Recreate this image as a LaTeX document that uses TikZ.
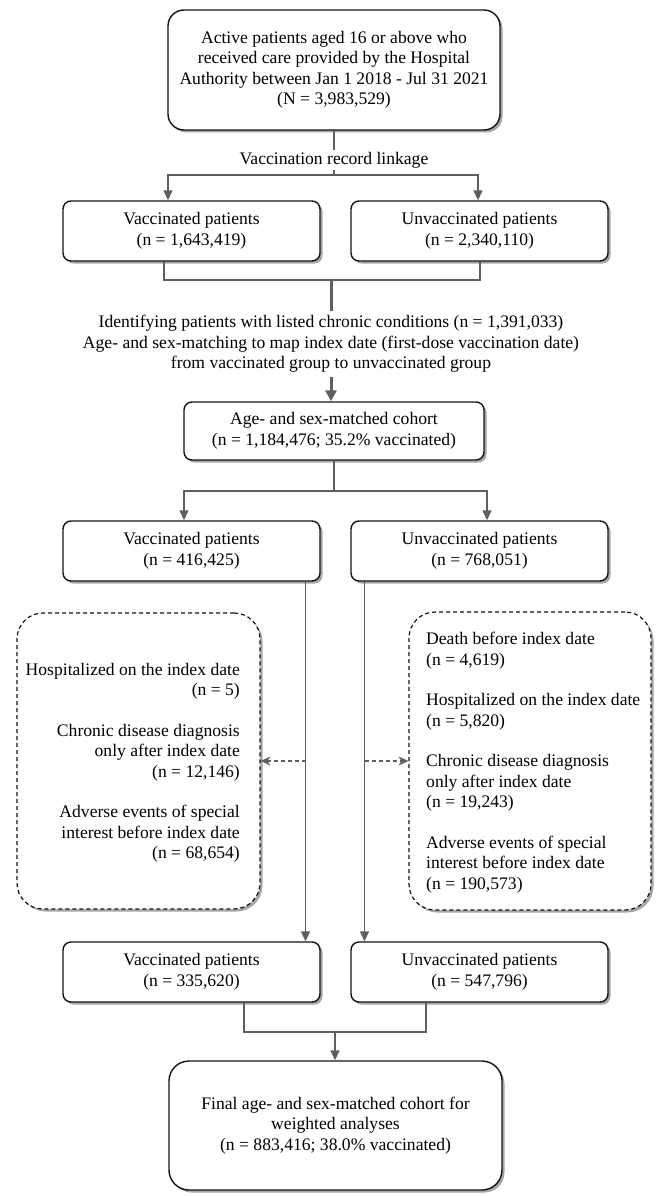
\documentclass[tikz,border=0pt]{standalone}
\usepackage{fontspec}
\setmainfont{Liberation Serif}
\usetikzlibrary{arrows.meta,shadows}
\definecolor{cgray}{RGB}{95,95,95}
\definecolor{bord}{RGB}{20,20,20}
\begin{document}
\begin{tikzpicture}[x=1pt,y=-1pt,
  font=\fontsize{17.6}{20.5}\selectfont,
  shad/.style={drop shadow={shadow xshift=2.5pt,shadow yshift=-2.5pt,fill=black,opacity=0.35}},
  box/.style={shad,draw=bord,line width=1.4pt,fill=white,rounded corners=8pt,align=center,inner sep=0pt},
  dbox/.style={shad,draw=bord,line width=1.2pt,fill=white,rounded corners=26pt,dash pattern=on 4pt off 3pt,inner sep=0pt},
  txt/.style={align=center,inner sep=0pt},
  conn/.style={draw=cgray,line width=1.4pt},
  arr/.style={conn,-{Triangle[length=10pt,width=9pt]}},
  tconn/.style={draw=cgray,line width=3pt},
  tarr/.style={draw=cgray,line width=3pt,-{Triangle[length=11pt,width=11pt]}},
  darr/.style={draw=cgray,line width=1.2pt,dash pattern=on 4pt off 3pt,-{Stealth[length=10pt,width=9pt]}}
]
\useasboundingbox[fill=white] (0,0) rectangle (659,1196);

% nodes
\node[box,rounded corners=16pt,minimum width=332pt,minimum height=120pt] (top) at (334,70)
  {Active patients aged 16 or above who\\received care provided by the Hospital\\Authority between Jan 1 2018 - Jul 31 2021\\(N = 3,983,529)};
\node[txt,fill=white,inner xsep=3pt,inner ysep=2pt] (link) at (334,160) {Vaccination record linkage};

\node[box,minimum width=257pt,minimum height=60pt] (v1) at (191.5,231) {Vaccinated patients\\(n = 1,643,419)};
\node[box,minimum width=257pt,minimum height=60pt] (u1) at (479.5,231) {Unvaccinated patients\\(n = 2,340,110)};

\node[txt,inner ysep=4pt] (mid) at (331,344)
  {Identifying patients with listed chronic conditions (n = 1,391,033)\\Age- and sex-matching to map index date (first-dose vaccination date)\\from vaccinated group to unvaccinated group};

\node[box,minimum width=300pt,minimum height=58pt] (age) at (334,431) {Age- and sex-matched cohort\\(n = 1,184,476; 35.2\% vaccinated)};

\node[box,minimum width=257pt,minimum height=60pt] (v2) at (191.5,551) {Vaccinated patients\\(n = 416,425)};
\node[box,minimum width=257pt,minimum height=60pt] (u2) at (479.5,551) {Unvaccinated patients\\(n = 768,051)};

\node[dbox,minimum width=243pt,minimum height=296pt] (dl) at (138.5,761) {};
\node[dbox,minimum width=242pt,minimum height=298pt] (dr) at (530,761) {};
\node[txt,align=right,anchor=east] (dlt) at (240,763)
  {Hospitalized on the index date\\(n = 5)\\[20pt]Chronic disease diagnosis\\only after index date\\(n = 12,146)\\[20pt]Adverse events of special\\interest before index date\\(n = 68,654)};
\node[txt,align=left,anchor=west] (drt) at (426,762.5)
  {Death before index date\\(n = 4,619)\\[20pt]Hospitalized on the index date\\(n = 5,820)\\[20pt]Chronic disease diagnosis\\only after index date\\(n = 19,243)\\[20pt]Adverse events of special\\interest before index date\\(n = 190,573)};

\node[box,minimum width=257pt,minimum height=60pt] (v3) at (191.5,972) {Vaccinated patients\\(n = 335,620)};
\node[box,minimum width=257pt,minimum height=60pt] (u3) at (479.5,972) {Unvaccinated patients\\(n = 547,796)};

\node[box,rounded corners=20pt,minimum width=333pt,minimum height=129pt] (fin) at (335.5,1125.5)
  {Final age- and sex-matched cohort for\\weighted analyses\\(n = 883,416; 38.0\% vaccinated)};

% junction coordinates
\coordinate (j1) at (334,175);
\coordinate (j2) at (331,280);
\coordinate (j3) at (334,491);
\coordinate (j4) at (335,1032);
\coordinate (vl) at ([xshift=114pt]v2.south);
\coordinate (ul) at ([xshift=-115pt]u2.south);

% connectors
\draw[conn] (top.south) -- (link.north);
\draw[conn] (link.south) -- (j1);
\draw[arr] (j1) -| ([xshift=-23.5pt]v1.north);
\draw[arr] (j1) -| ([xshift=-1.5pt]u1.north);

\draw[conn] ([xshift=-27.5pt]v1.south) |- (j2) -| ([xshift=0.5pt]u1.south);
\draw[tconn] (j2) -- (mid.north);
\draw[tarr] (mid.south) -- (mid.south |- age.north);

\draw[conn] (age.south) -- (j3);
\draw[arr] (j3) -| ([xshift=-7.5pt]v2.north);
\draw[arr] (j3) -| ([xshift=7.5pt]u2.north);

\draw[arr] (vl) -- (vl |- v3.north);
\draw[arr] (ul) -- (ul |- u3.north);
\draw[darr] (vl |- dl.east) -- (dl.east);
\draw[darr] (ul |- dr.west) -- (dr.west);

\draw[conn] ([xshift=52.5pt]v3.south) |- (j4) -| ([xshift=-53.5pt]u3.south);
\draw[arr] (j4) -- (j4 |- fin.north);
\end{tikzpicture}
\end{document}
